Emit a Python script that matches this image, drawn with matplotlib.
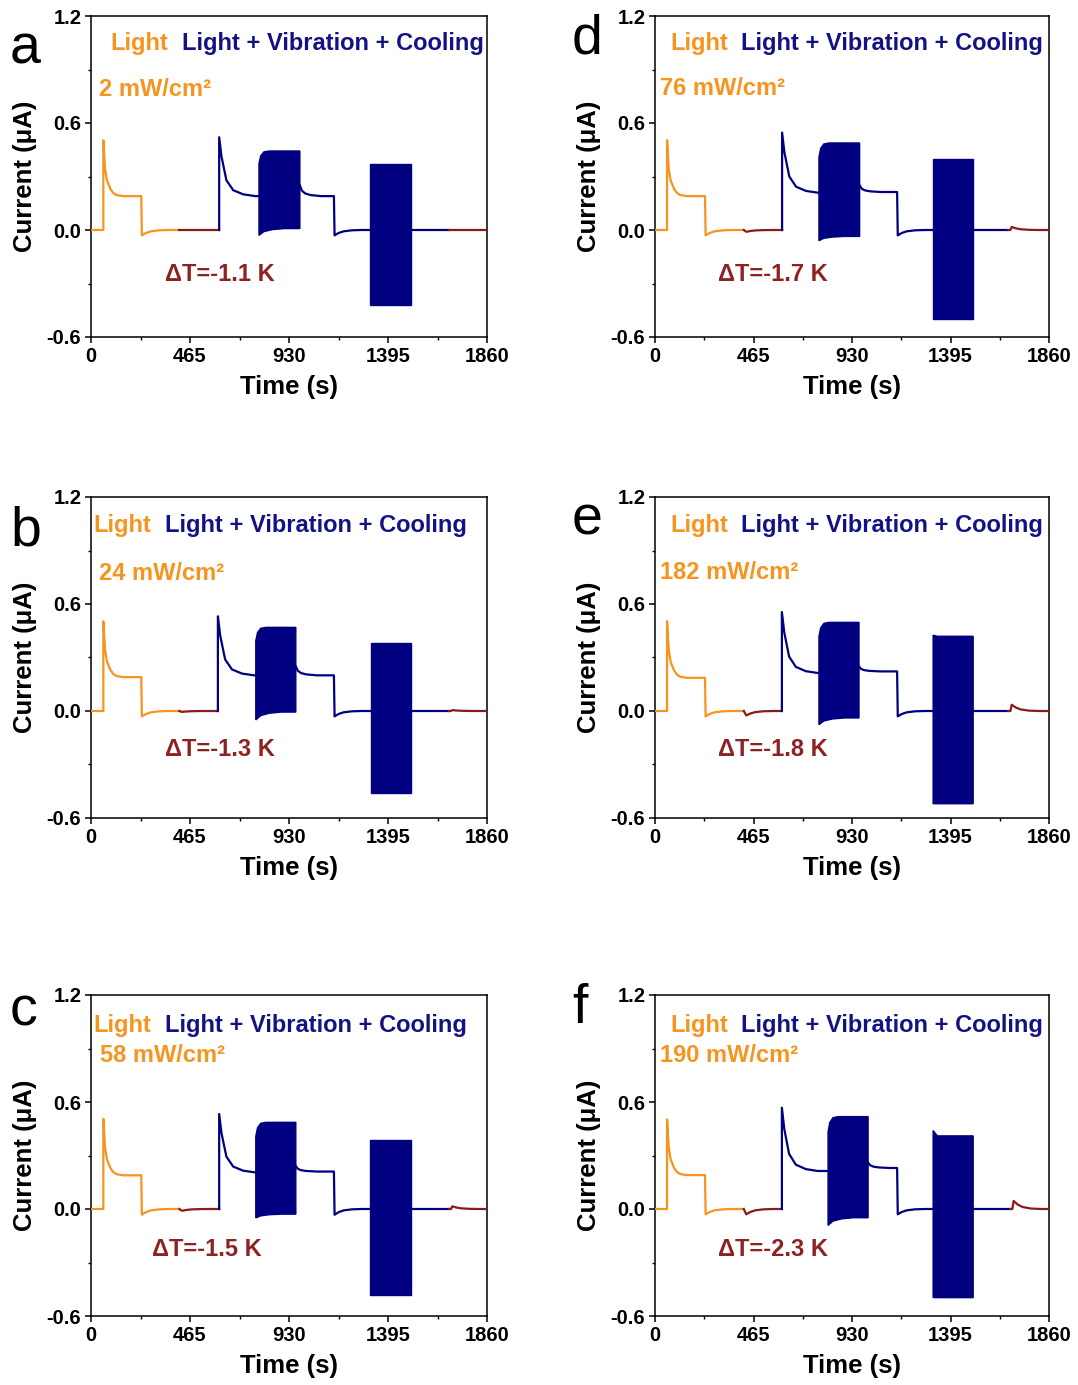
import numpy as np
import matplotlib
matplotlib.use("Agg")
import matplotlib.pyplot as plt
from matplotlib.ticker import FixedLocator, MultipleLocator

plt.rcParams['font.family'] = ['Liberation Sans', 'DejaVu Sans']

# ---------------- data ----------------
panel_letters = ["a", "b", "c", "d", "e", "f"]
power_density = [2, 24, 58, 76, 182, 190]          # mW/cm2
delta_T = [-1.1, -1.3, -1.5, -1.7, -1.8, -2.3]     # K

# event times (s)
light_on = [58, 58, 58, 57, 57, 57]
light_off = [236, 236, 236, 236, 236, 236]
light_end = [415, 415, 415, 419, 419, 419]
combo_on = [602, 596, 602, 600, 599, 599]
vib_start = [789, 774, 774, 774, 774, 817]
vib_end = [981, 962, 962, 966, 963, 1006]
combo_off = [1141, 1141, 1141, 1143, 1143, 1143]
cool_start = [1312, 1315, 1312, 1313, 1313, 1313]
cool_end = [1505, 1505, 1505, 1502, 1502, 1502]
combo_end = [1681, 1681, 1681, 1668, 1668, 1677]

# current levels (uA)
light_peak = [0.503, 0.503, 0.505, 0.503, 0.503, 0.503]
light_plateau = [0.190, 0.190, 0.189, 0.190, 0.186, 0.190]
off_dip = [-0.030, -0.030, -0.032, -0.030, -0.030, -0.030]
dark_dip = [0.0, -0.005, -0.010, -0.010, -0.025, -0.030]
combo_peak = [0.520, 0.531, 0.533, 0.546, 0.555, 0.568]
combo_plateau = [0.190, 0.200, 0.205, 0.209, 0.213, 0.213]
vib_top = [0.443, 0.469, 0.486, 0.488, 0.497, 0.518]
vib_bottom = [0.008, -0.006, -0.029, -0.036, -0.039, -0.049]
vib_bottom_start = [-0.030, -0.050, -0.050, -0.060, -0.077, -0.092]
post_vib_start = [0.250, 0.250, 0.240, 0.250, 0.250, 0.260]
post_vib_plateau = [0.190, 0.200, 0.210, 0.213, 0.222, 0.230]
cool_top_start = [0.368, 0.381, 0.389, 0.396, 0.425, 0.440]
cool_top = [0.368, 0.381, 0.389, 0.396, 0.419, 0.410]
cool_bottom = [-0.420, -0.460, -0.482, -0.497, -0.520, -0.497]
dark_bump = [0.0, 0.005, 0.015, 0.017, 0.035, 0.045]

# relaxation shapes: time offset (s) and remaining fraction of the step
light_decay_t = [0, 8, 17, 33, 47, 63, 94]
light_decay_f = [1, 0.49, 0.28, 0.13, 0.054, 0.018, 0]
combo_decay_t = [0, 11, 34, 66, 113, 170]
combo_decay_f = [1, 0.67, 0.27, 0.10, 0.03, 0]
recover_t = [0, 19, 42, 81, 127]
recover_f = [1, 0.56, 0.25, 0.06, 0]
band_rise_t = [0, 8, 23, 47]
band_rise_f = [0.72, 0.89, 0.98, 1.0]
band_settle_t = [0, 23, 63, 120]
band_settle_f = [1, 0.45, 0.15, 0]
post_vib_t = [0, 10, 25, 50, 100]
post_vib_f = [1, 0.5, 0.25, 0.1, 0]

x_ticks = [0, 465, 930, 1395, 1860]
y_ticks = [-0.6, 0.0, 0.6, 1.2]

# ---------------- styles / layout ----------------
ORANGE = "#F7941D"
NAVY = "#000080"
DARKRED = "#8B1A1A"
NAVY_TEXT = "#121285"
DT_TEXT = "#8E2222"

W, H = 1078, 1385
# axes boxes in pixels: (left, top, right, bottom)
boxes = [(91, 16, 487, 337), (91, 497, 487, 818), (91, 995, 487, 1316),
         (655, 16, 1049, 337), (655, 497, 1049, 818), (655, 995, 1049, 1316)]
light_x = [0.048, 0.005, 0.005, 0.038, 0.038, 0.038]
combo_x = [0.230, 0.187, 0.187, 0.218, 0.218, 0.218]
title_y = [0.913, 0.910, 0.905, 0.913, 0.910, 0.905]
power_xy = [(0.020, 0.770), (0.020, 0.763), (0.023, 0.813),
            (0.013, 0.773), (0.013, 0.766), (0.013, 0.813)]
dt_xy = [(0.187, 0.196), (0.187, 0.212), (0.154, 0.206),
         (0.160, 0.196), (0.160, 0.212), (0.160, 0.206)]
letter_xy = [(10, 63), (10, 545), (10, 1025), (572, 53), (572, 535), (572, 1023)]

LW = 1.6


def relax(t0, start, end, offs, fracs):
    t = t0 + np.asarray(offs, float)
    y = end + (start - end) * np.asarray(fracs, float)
    return list(t), list(y)


def cat(*parts):
    ts, ys = [], []
    for t, y in parts:
        ts += list(t)
        ys += list(y)
    return ts, ys


fig = plt.figure(figsize=(W / 100, H / 100), dpi=100)

for i in range(6):
    l, t, r, b = boxes[i]
    ax = fig.add_axes([l / W, 1 - b / H, (r - l) / W, (b - t) / H])

    # --- light only ---
    lt, ly = cat(([0, light_on[i], light_on[i]], [0, 0, light_peak[i]]),
                 relax(light_on[i], light_peak[i], light_plateau[i], light_decay_t, light_decay_f),
                 ([light_off[i], light_off[i] + 3], [light_plateau[i], off_dip[i]]),
                 relax(light_off[i] + 3, off_dip[i], 0.0, recover_t, recover_f),
                 ([light_end[i]], [0.0]))
    ax.plot(lt, ly, color=ORANGE, lw=LW, solid_joinstyle="round", zorder=3)

    # --- dark interval ---
    dt_, dy = cat(([light_end[i], light_end[i] + 12], [0.0, dark_dip[i]]),
                  relax(light_end[i] + 12, dark_dip[i], 0.0, recover_t, recover_f),
                  ([combo_on[i]], [0.0]))
    ax.plot(dt_, dy, color=DARKRED, lw=LW, zorder=3)

    # --- light + vibration + cooling ---
    ct, cy = cat(([combo_on[i], combo_on[i]], [0.0, combo_peak[i]]),
                 relax(combo_on[i], combo_peak[i], combo_plateau[i], combo_decay_t, combo_decay_f),
                 ([vib_start[i]], [combo_plateau[i]]))
    ax.plot(ct, cy, color=NAVY, lw=LW, zorder=3)

    # vibration band envelope
    top_t, top_y = relax(vib_start[i], vib_top[i], combo_plateau[i], band_rise_t, band_rise_f)
    top_t += [vib_end[i]]
    top_y += [vib_top[i]]
    bot_t, bot_y = relax(vib_start[i], vib_bottom_start[i], vib_bottom[i],
                         band_settle_t, band_settle_f)
    bot_t += [vib_end[i]]
    bot_y += [vib_bottom[i]]
    ax.fill(top_t + bot_t[::-1], top_y + bot_y[::-1], facecolor=NAVY,
            edgecolor=NAVY, lw=1.0, zorder=3)

    pt, py = cat(relax(vib_end[i], post_vib_start[i], post_vib_plateau[i], post_vib_t, post_vib_f),
                 ([combo_off[i], combo_off[i] + 3], [post_vib_plateau[i], off_dip[i]]),
                 relax(combo_off[i] + 3, off_dip[i], 0.0, recover_t, recover_f),
                 ([cool_start[i]], [0.0]))
    ax.plot(pt, py, color=NAVY, lw=LW, zorder=3)

    # cooling band envelope
    ax.fill([cool_start[i], cool_start[i] + 20, cool_end[i], cool_end[i], cool_start[i]],
            [cool_top_start[i], cool_top[i], cool_top[i], cool_bottom[i], cool_bottom[i]],
            facecolor=NAVY, edgecolor=NAVY, lw=1.0, zorder=3)
    ax.plot([cool_end[i], combo_end[i]], [0.0, 0.0], color=NAVY, lw=LW, zorder=3)

    # --- dark tail ---
    et, ey = cat(([combo_end[i], combo_end[i] + 10, combo_end[i] + 16], [0.0, 0.0, dark_bump[i]]),
                 relax(combo_end[i] + 16, dark_bump[i], 0.0, recover_t, recover_f),
                 ([1860], [0.0]))
    ax.plot(et, ey, color=DARKRED, lw=LW, zorder=3)

    # --- axes styling ---
    ax.set_xlim(0, 1860)
    ax.set_ylim(-0.6, 1.2)
    ax.xaxis.set_major_locator(FixedLocator(x_ticks))
    ax.xaxis.set_minor_locator(MultipleLocator(232.5))
    ax.yaxis.set_major_locator(FixedLocator(y_ticks))
    ax.yaxis.set_minor_locator(MultipleLocator(0.3))
    ax.set_xticklabels([str(v) for v in x_ticks], fontsize=14.5, fontweight="bold")
    ax.set_yticklabels([f"{v:.1f}" for v in y_ticks], fontsize=14.5, fontweight="bold")
    ax.tick_params(which="major", direction="out", length=4, width=1.1, pad=3,
                   top=False, right=False)
    ax.tick_params(which="minor", direction="out", length=2.5, width=1.0,
                   top=False, right=False)
    for s in ax.spines.values():
        s.set_linewidth(1.1)

    ax.set_xlabel("Time (s)", fontsize=18.5, fontweight="bold")
    ax.xaxis.label.set_va("center")
    ax.xaxis.set_label_coords(0.5, -0.157)
    ax.set_ylabel("Current (\u03bcA)", fontsize=18.5, fontweight="bold")
    ax.yaxis.label.set_va("center")
    ax.yaxis.set_label_coords(-0.167, 0.5)

    ax.text(light_x[i], title_y[i], "Light", transform=ax.transAxes, color=ORANGE,
            fontsize=17, fontweight="bold", ha="left", va="center")
    ax.text(combo_x[i], title_y[i], "Light + Vibration + Cooling", transform=ax.transAxes,
            color=NAVY_TEXT, fontsize=17, fontweight="bold", ha="left", va="center")
    px, py_ = power_xy[i]
    ax.text(px, py_, f"{power_density[i]} mW/cm\u00b2", transform=ax.transAxes,
            color=ORANGE, fontsize=17, fontweight="bold", ha="left", va="center")
    tx, ty = dt_xy[i]
    ax.text(tx, ty, f"\u0394T={delta_T[i]} K", transform=ax.transAxes,
            color=DT_TEXT, fontsize=17, fontweight="bold", ha="left", va="center")

    lx, ly_ = letter_xy[i]
    fig.text(lx / W, 1 - ly_ / H, panel_letters[i], fontsize=40, ha="left",
             va="baseline", color="black")

fig.savefig("out.png", dpi=100)
